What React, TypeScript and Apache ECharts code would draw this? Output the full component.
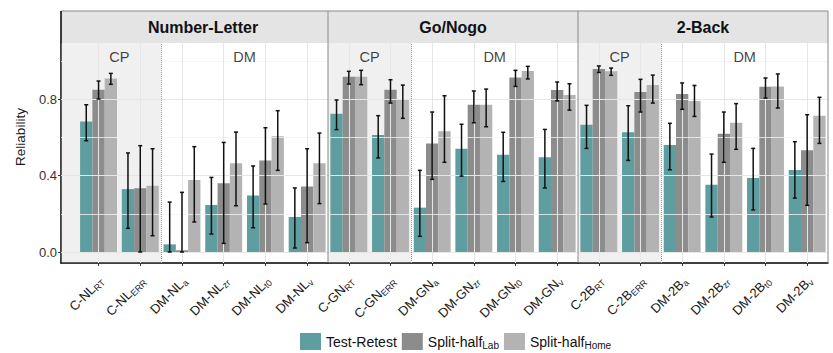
import React, { useEffect, useRef } from "react";
import * as echarts from "echarts";

// ---------------- data ----------------
const panelTitles = ["Number-Letter", "Go/Nogo", "2-Back"];
const seriesNames = ["Test-Retest", "Split-half_Lab", "Split-half_Home"];

const labelsNL = ["C-NL{s|RT}", "C-NL{s|ERR}", "DM-NL{s|a}", "DM-NL{s|zr}", "DM-NL{s|t0}", "DM-NL{s|v}"];
const labelsGN = ["C-GN{s|RT}", "C-GN{s|ERR}", "DM-GN{s|a}", "DM-GN{s|zr}", "DM-GN{s|t0}", "DM-GN{s|v}"];
const labels2B = ["C-2B{s|RT}", "C-2B{s|ERR}", "DM-2B{s|a}", "DM-2B{s|zr}", "DM-2B{s|t0}", "DM-2B{s|v}"];

// Number-Letter
const nlRetest = [0.683, 0.329, 0.04, 0.246, 0.296, 0.183];
const nlRetestLo = [0.582, 0.124, 0.0, 0.094, 0.127, 0.021];
const nlRetestHi = [0.77, 0.518, 0.261, 0.39, 0.45, 0.335];
const nlLab = [0.849, 0.333, 0.009, 0.359, 0.478, 0.342];
const nlLabLo = [0.8, 0.0, 0.0, 0.045, 0.251, 0.049];
const nlLabHi = [0.894, 0.556, 0.312, 0.573, 0.65, 0.54];
const nlHome = [0.908, 0.347, 0.376, 0.464, 0.605, 0.464];
const nlHomeLo = [0.877, 0.085, 0.157, 0.242, 0.427, 0.253];
const nlHomeHi = [0.934, 0.54, 0.551, 0.627, 0.739, 0.622];

// Go/Nogo
const gnRetest = [0.723, 0.612, 0.232, 0.54, 0.509, 0.495];
const gnRetestLo = [0.64, 0.492, 0.082, 0.397, 0.369, 0.335];
const gnRetestHi = [0.795, 0.713, 0.427, 0.668, 0.626, 0.641];
const gnLab = [0.917, 0.849, 0.568, 0.77, 0.913, 0.847];
const gnLabLo = [0.878, 0.779, 0.38, 0.676, 0.866, 0.79];
const gnLabHi = [0.945, 0.901, 0.732, 0.842, 0.95, 0.889];
const gnHome = [0.917, 0.798, 0.631, 0.77, 0.946, 0.821];
const gnHomeLo = [0.875, 0.699, 0.469, 0.655, 0.905, 0.742];
const gnHomeHi = [0.95, 0.873, 0.817, 0.852, 0.971, 0.88];

// 2-Back
const tbRetest = [0.666, 0.626, 0.559, 0.352, 0.387, 0.429];
const tbRetestLo = [0.542, 0.479, 0.43, 0.183, 0.22, 0.282];
const tbRetestHi = [0.767, 0.765, 0.673, 0.512, 0.542, 0.577];
const tbLab = [0.957, 0.837, 0.826, 0.619, 0.864, 0.532];
const tbLabLo = [0.939, 0.732, 0.746, 0.469, 0.805, 0.244];
const tbLabHi = [0.973, 0.903, 0.884, 0.732, 0.91, 0.718];
const tbHome = [0.945, 0.873, 0.79, 0.676, 0.866, 0.713];
const tbHomeLo = [0.924, 0.779, 0.709, 0.537, 0.753, 0.568];
const tbHomeHi = [0.962, 0.925, 0.871, 0.776, 0.931, 0.809];

const yTicks = [0, 0.4, 0.8];
const yMinorTicks = [0.2, 0.6, 1.0];
const categoryIndex = [0, 1, 2, 3, 4, 5];
const cpBoundary = 1.5;
const regionLabels: [number, number, string][] = [
  [0.5, 1.02, "CP"],
  [3.5, 1.02, "DM"],
];

// ---------------- layout / style ----------------
const panels = [
  { labels: labelsNL, vals: [nlRetest, nlLab, nlHome], lo: [nlRetestLo, nlLabLo, nlHomeLo], hi: [nlRetestHi, nlLabHi, nlHomeHi] },
  { labels: labelsGN, vals: [gnRetest, gnLab, gnHome], lo: [gnRetestLo, gnLabLo, gnHomeLo], hi: [gnRetestHi, gnLabHi, gnHomeHi] },
  { labels: labels2B, vals: [tbRetest, tbLab, tbHome], lo: [tbRetestLo, tbLabLo, tbHomeLo], hi: [tbRetestHi, tbLabHi, tbHomeHi] },
];
const PANEL_X = [
  [61, 328],
  [328, 578],
  [578, 828],
];
const X_MIN = [-0.9, -0.5, -0.5];
const X_MAX = 5.5;
const Y_MIN = -0.0575;
const Y_MAX = 1.093;
const GRID_TOP = 43;
const GRID_H = 220;
const STRIP_TOP = 11;
const COLORS = ["#5f9ea0", "#8c8c8c", "#b3b3b3"];
const BAR_W = 12.3;
const FONT = "Liberation Sans, Arial, Helvetica, sans-serif";

const subName = (n: string) => {
  const i = n.indexOf("_");
  return i < 0 ? n : n.slice(0, i) + "{s|" + n.slice(i + 1) + "}";
};

export default function App() {
  const ref = useRef<HTMLDivElement>(null);
  useEffect(() => {
    if (!ref.current) return;
    const chart = echarts.init(ref.current, undefined, { renderer: "svg" });

    const grid: any[] = [];
    const xAxis: any[] = [];
    const yAxis: any[] = [];
    const series: any[] = [];

    panels.forEach((p, gi) => {
      const [x0, x1] = PANEL_X[gi];
      grid.push({ left: x0, top: GRID_TOP, width: x1 - x0, height: GRID_H, containLabel: false });
      xAxis.push({
        type: "value",
        gridIndex: gi,
        min: X_MIN[gi],
        max: X_MAX,
        axisLine: { show: true, onZero: false, lineStyle: { color: "#000", width: 1.5 } },
        axisTick: { show: true, customValues: categoryIndex, length: 3, lineStyle: { color: "#333" } },
        splitLine: { show: false },
        axisLabel: {
          customValues: categoryIndex,
          rotate: 45,
          margin: 13,
          padding: [8, 0, 0, 0],
          fontSize: 13,
          lineHeight: 15,
          fontFamily: FONT,
          color: "#1a1a1a",
          formatter: (v: number) => p.labels[Math.round(v)] ?? "",
          rich: { s: { fontSize: 9, fontFamily: FONT, color: "#1a1a1a", verticalAlign: "bottom", lineHeight: 16 } },
        },
      });
      yAxis.push({
        type: "value",
        gridIndex: gi,
        min: Y_MIN,
        max: Y_MAX,
        show: gi === 0,
        axisLine: { show: gi === 0, onZero: false, lineStyle: { color: "#000", width: 1.5 } },
        axisTick: { show: gi === 0, customValues: yTicks, length: 3, lineStyle: { color: "#333" } },
        splitLine: { show: false },
        axisLabel: {
          show: gi === 0,
          customValues: yTicks,
          margin: 4,
          fontSize: 13,
          fontFamily: FONT,
          color: "#333",
          formatter: (v: number) => v.toFixed(1),
        },
      });

      // background gridlines
      const gl: any[] = [];
      yMinorTicks.forEach((v) => gl.push({ yAxis: v, lineStyle: { color: "#f3f3f3", width: 0.8, type: "solid" } }));
      yTicks.forEach((v) => gl.push({ yAxis: v, lineStyle: { color: "#e6e6e6", width: 1, type: "solid" } }));
      categoryIndex.forEach((v) => gl.push({ xAxis: v, lineStyle: { color: "#e6e6e6", width: 1, type: "solid" } }));
      series.push({
        type: "scatter",
        xAxisIndex: gi,
        yAxisIndex: gi,
        z: 0,
        silent: true,
        symbolSize: 0,
        data: [],
        markLine: { silent: true, symbol: "none", label: { show: false }, animation: false, data: gl },
      });

      // bars
      p.vals.forEach((vals, si) => {
        series.push({
          type: "bar",
          name: seriesNames[si],
          xAxisIndex: gi,
          yAxisIndex: gi,
          z: 2,
          barWidth: BAR_W,
          barGap: "0%",
          itemStyle: { color: COLORS[si] },
          data: vals.map((v, i) => [categoryIndex[i], v]),
        });
      });

      // CP shading overlay + dotted divider
      series.push({
        type: "scatter",
        xAxisIndex: gi,
        yAxisIndex: gi,
        z: 3,
        silent: true,
        symbolSize: 0,
        data: [],
        markArea: {
          silent: true,
          itemStyle: { color: "rgba(190,190,190,0.23)" },
          data: [[{ xAxis: X_MIN[gi] }, { xAxis: cpBoundary }]],
        },
        markLine: {
          silent: true,
          symbol: "none",
          label: { show: false },
          lineStyle: { color: "#999", type: "dotted", width: 1 },
          data: [{ xAxis: cpBoundary }],
        },
      });

      // region labels
      series.push({
        type: "scatter",
        xAxisIndex: gi,
        yAxisIndex: gi,
        z: 6,
        silent: true,
        symbolSize: 0,
        data: regionLabels,
        label: {
          show: true,
          position: "inside",
          formatter: (q: any) => q.data[2],
          fontSize: 14.5,
          fontFamily: FONT,
          color: "#111",
        },
      });

      // error bars
      const ebData: any[] = [];
      p.vals.forEach((vals, si) => {
        vals.forEach((_, i) => ebData.push([categoryIndex[i], p.lo[si][i], p.hi[si][i], si]));
      });
      series.push({
        type: "custom",
        xAxisIndex: gi,
        yAxisIndex: gi,
        z: 5,
        silent: true,
        encode: { x: 0, y: [1, 2] },
        data: ebData,
        renderItem: (_params: any, api: any) => {
          const x = api.value(0);
          const s = api.value(3);
          const lo = api.coord([x, api.value(1)]);
          const hi = api.coord([x, api.value(2)]);
          const cx = lo[0] + (s - 1) * BAR_W;
          const cap = 2;
          const st = { stroke: "#111", lineWidth: 1.5 };
          return {
            type: "group",
            children: [
              { type: "line", shape: { x1: cx, y1: lo[1], x2: cx, y2: hi[1] }, style: st },
              { type: "line", shape: { x1: cx - cap, y1: lo[1], x2: cx + cap, y2: lo[1] }, style: st },
              { type: "line", shape: { x1: cx - cap, y1: hi[1], x2: cx + cap, y2: hi[1] }, style: st },
            ],
          };
        },
      });
    });

    const graphic: any[] = [];
    const stripCenters = [203, 453, 703];
    PANEL_X.forEach(([x0, x1], gi) => {
      graphic.push({
        type: "rect",
        z: 1,
        shape: { x: x0, y: STRIP_TOP, width: x1 - x0, height: GRID_TOP - STRIP_TOP },
        style: { fill: "#e4e4e4" },
      });
      graphic.push({
        type: "text",
        z: 2,
        x: stripCenters[gi],
        y: (STRIP_TOP + GRID_TOP) / 2 + 0.5,
        style: {
          text: panelTitles[gi],
          fontSize: 16,
          fontWeight: "bold",
          fontFamily: FONT,
          fill: "#111",
          align: "center",
          verticalAlign: "middle",
        },
      });
    });
    // borders
    const bc = "#8a8a8a";
    graphic.push({ type: "line", z: 50, shape: { x1: 61, y1: STRIP_TOP, x2: 828, y2: STRIP_TOP }, style: { stroke: bc, lineWidth: 1 } });
    [328, 578, 828].forEach((x) =>
      graphic.push({ type: "line", z: 50, shape: { x1: x, y1: STRIP_TOP, x2: x, y2: GRID_TOP + GRID_H }, style: { stroke: bc, lineWidth: 1 } })
    );
    graphic.push({ type: "line", z: 50, shape: { x1: 61, y1: STRIP_TOP, x2: 61, y2: GRID_TOP }, style: { stroke: "#000", lineWidth: 1.5 } });
    graphic.push({
      type: "text",
      z: 2,
      x: 20,
      y: 137,
      rotation: Math.PI / 2,
      style: {
        text: "Reliability",
        fontSize: 13.5,
        fontFamily: FONT,
        fill: "#1a1a1a",
        align: "center",
        verticalAlign: "middle",
      },
    });

    chart.setOption({
      animation: false,
      backgroundColor: "#fff",
      grid,
      xAxis,
      yAxis,
      series,
      graphic,
      legend: {
        left: 300,
        top: 333,
        padding: 0,
        itemWidth: 21,
        itemHeight: 17,
        itemGap: 5,
        icon: "rect",
        data: seriesNames,
        formatter: (n: string) => subName(n),
        textStyle: {
          fontSize: 14,
          fontFamily: FONT,
          color: "#111",
          lineHeight: 17,
          rich: { s: { fontSize: 10, fontFamily: FONT, color: "#111", verticalAlign: "bottom", lineHeight: 17 } },
        },
      },
    });
    return () => chart.dispose();
  }, []);

  return <div ref={ref} style={{ position: "fixed", left: 0, top: 0, width: 833, height: 353 }} />;
}
